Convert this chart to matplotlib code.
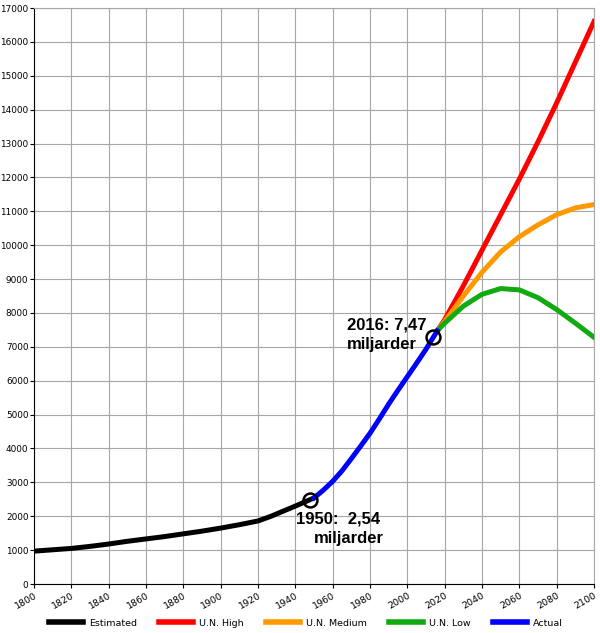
import matplotlib
matplotlib.use("Agg")
import matplotlib.pyplot as plt

est_years = [1800, 1810, 1820, 1830, 1840, 1850, 1860, 1870, 1880, 1890,
             1900, 1910, 1920, 1927, 1940, 1950]
est_pop = [970, 1010, 1050, 1110, 1180, 1260, 1330, 1400, 1480, 1560,
           1650, 1750, 1860, 2000, 2300, 2540]

act_years = [1950, 1955, 1960, 1965, 1970, 1975, 1980, 1985, 1990, 1995,
             2000, 2005, 2010, 2016]
act_pop = [2540, 2770, 3030, 3340, 3700, 4070, 4450, 4870, 5310, 5720,
           6120, 6520, 6930, 7470]

proj_years = [2016, 2020, 2030, 2040, 2050, 2060, 2070, 2080, 2090, 2100]
high_pop = [7470, 7800, 8800, 9850, 10900, 11950, 13050, 14200, 15400, 16600]
med_pop = [7470, 7750, 8500, 9200, 9800, 10250, 10600, 10900, 11100, 11200]
low_pop = [7470, 7700, 8200, 8550, 8720, 8680, 8450, 8100, 7700, 7280]

marker_years = [1948, 2014]
marker_pop = [2480, 7290]

fig = plt.figure(figsize=(6, 6.33), dpi=100)
ax = fig.add_axes([34 / 600, 1 - 584 / 633, 560 / 600, 576 / 633])

lw = 3.6
ax.plot(est_years, est_pop, color="black", lw=lw, label="Estimated", zorder=3)
ax.plot(proj_years, high_pop, color="#ff0000", lw=lw, label="U.N. High", zorder=3)
ax.plot(proj_years, med_pop, color="#ff9900", lw=lw, label="U.N. Medium", zorder=3)
ax.plot(proj_years, low_pop, color="#11aa11", lw=lw, label="U.N. Low", zorder=3)
ax.plot(act_years, act_pop, color="#0000ff", lw=lw, label="Actual", zorder=3)
ax.plot(marker_years, marker_pop, "o", ms=10, mfc="none", mec="black",
        mew=1.8, zorder=4)

font = dict(fontsize=12, fontweight="bold", family="Liberation Sans",
            ha="left", va="top", zorder=5)
ax.text(1967.6, 7870, "2016: 7,47", **font)
ax.text(1967.6, 7280, "miljarder", **font)
ax.text(1940.3, 2130, "1950:  2,54", **font)
ax.text(1950.0, 1570, "miljarder", **font)

ax.set_xlim(1800, 2100)
ax.set_ylim(0, 17000)
ax.set_xticks(range(1800, 2101, 20))
ax.set_yticks(range(0, 17001, 1000))
ax.tick_params(axis="x", labelsize=6.8, rotation=30, length=3, pad=2)
ax.tick_params(axis="y", labelsize=6.4, length=3, pad=1)
for lab in ax.get_xticklabels():
    lab.set_ha("right")
    lab.set_rotation_mode("anchor")
ax.grid(True, color="#a6a6a6", lw=0.8)
ax.set_axisbelow(True)
for side in ["top", "right"]:
    ax.spines[side].set_color("#a6a6a6")
    ax.spines[side].set_linewidth(0.8)

leg = fig.legend(loc="lower center", bbox_to_anchor=(0.51, -0.005), ncol=5,
                 frameon=False, fontsize=6.8, handlelength=3.6,
                 columnspacing=2.4, handletextpad=0.6)
for line in leg.get_lines():
    line.set_linewidth(4)

fig.savefig("out.png", dpi=100)
